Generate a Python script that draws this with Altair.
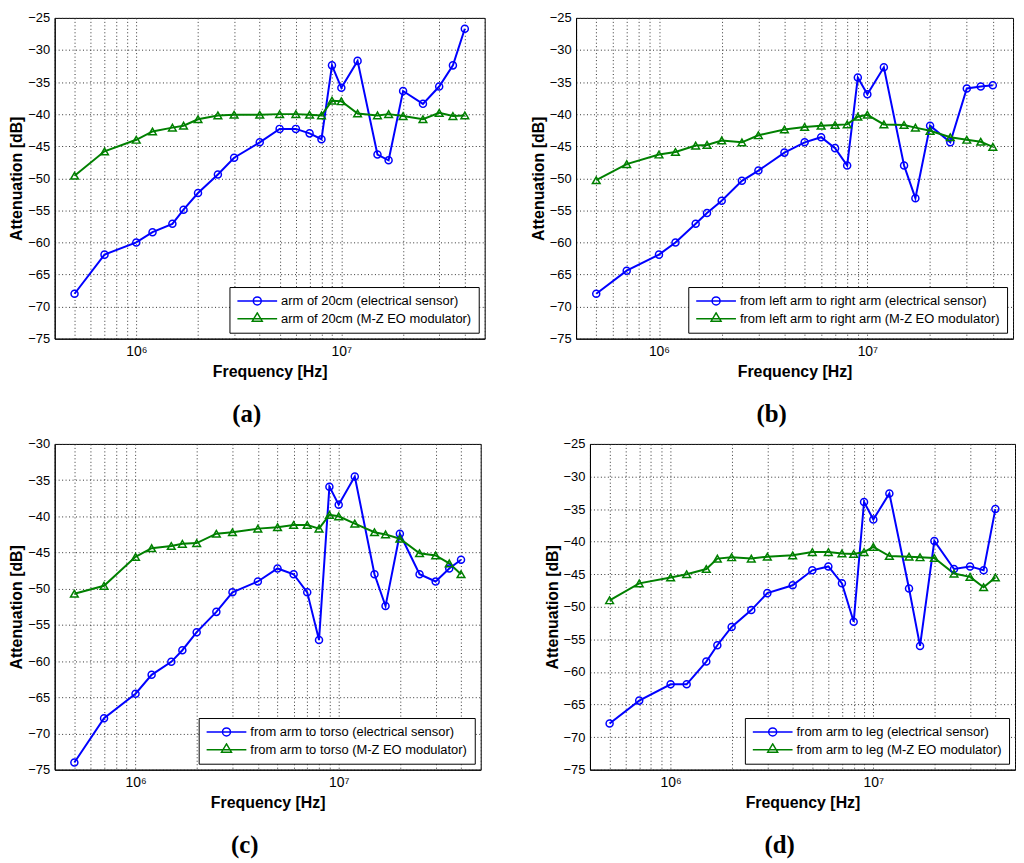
import altair as alt
import pandas as pd

# Frequencies in MHz (shared by all panels)
FREQ_MHZ = [0.5, 0.7, 1, 1.2, 1.5, 1.7, 2, 2.5, 3, 4, 5, 6, 7, 8, 9, 10, 12, 15, 17, 20, 25, 30, 35, 40]

A_ELEC = [-68.0, -61.9, -60.0, -58.4, -57.1, -54.9, -52.3, -49.4, -46.8, -44.4, -42.3, -42.3,
          -43.0, -43.9, -32.4, -35.9, -31.7, -46.3, -47.2, -36.4, -38.4, -35.7, -32.4, -26.7]
A_EO = [-49.6, -45.8, -44.0, -42.7, -42.1, -41.8, -40.8, -40.2, -40.1, -40.1, -40.0, -40.0,
        -40.1, -40.2, -37.9, -38.0, -39.9, -40.2, -40.0, -40.3, -40.8, -39.8, -40.3, -40.2]

B_ELEC = [-68.0, -64.4, -61.9, -60.0, -57.1, -55.4, -53.5, -50.4, -48.8, -46.0, -44.4, -43.6,
          -45.3, -48.0, -34.3, -36.9, -32.7, -48.0, -53.1, -41.8, -44.4, -36.0, -35.7, -35.5]
B_EO = [-50.3, -47.8, -46.3, -45.9, -44.9, -44.8, -44.1, -44.4, -43.3, -42.4, -42.0, -41.8,
        -41.7, -41.6, -40.4, -40.1, -41.6, -41.7, -42.1, -42.6, -43.6, -44.0, -44.3, -45.1]

C_ELEC = [-74.0, -67.9, -64.5, -61.9, -60.1, -58.5, -56.0, -53.2, -50.5, -49.0, -47.2, -48.0,
          -50.5, -57.1, -35.9, -38.4, -34.5, -48.0, -52.4, -42.4, -48.0, -49.0, -47.2, -46.0]
C_EO = [-50.7, -49.6, -45.6, -44.4, -44.1, -43.8, -43.7, -42.4, -42.2, -41.7, -41.5, -41.2,
        -41.2, -41.7, -39.8, -40.0, -41.0, -42.2, -42.5, -43.1, -45.1, -45.4, -46.5, -48.0]

D_ELEC = [-67.9, -64.4, -61.9, -61.9, -58.4, -55.9, -53.1, -50.5, -47.9, -46.7, -44.4, -43.8,
          -46.4, -52.3, -33.9, -36.6, -32.6, -47.2, -56.0, -39.9, -44.2, -43.8, -44.4, -35.0]
D_EO = [-49.0, -46.4, -45.5, -45.0, -44.2, -42.6, -42.4, -42.6, -42.3, -42.1, -41.6, -41.6,
        -41.8, -41.9, -41.6, -40.8, -42.2, -42.3, -42.4, -42.5, -44.9, -45.4, -47.0, -45.5]

PREFIXES = ["arm of 20cm", "from left arm to right arm", "from arm to torso", "from arm to leg"]
CAPTIONS = ["(a)", "(b)", "(c)", "(d)"]
YTOP = [-25, -25, -30, -25]

X_GRID = [400000, 500000, 600000, 700000, 800000, 900000,
          1000000, 2000000, 3000000, 4000000, 5000000, 6000000, 7000000, 8000000, 9000000,
          10000000, 20000000, 30000000, 40000000, 50000000]

BLUE = "#0000ff"
GREEN = "#008000"
# legend symbols: line segment with a marker (unit coordinates)
CIRC = "M-1,0H1M0.2,0A0.2,0.2 0 1,1 -0.2,0A0.2,0.2 0 1,1 0.2,0"
TRI = "M-1,0H1M0,-0.3L0.25,0.12L-0.25,0.12Z"


def panel(elec, eo, prefix, caption, ytop, width, height):
    n_elec = f"{prefix} (electrical sensor)"
    n_eo = f"{prefix} (M-Z EO modulator)"
    de = pd.DataFrame({"freq": [f * 1e6 for f in FREQ_MHZ], "att": elec, "series": n_elec})
    dg = pd.DataFrame({"freq": [f * 1e6 for f in FREQ_MHZ], "att": eo, "series": n_eo})
    df = pd.concat([de, dg], ignore_index=True)
    # rows only used to build the legend (placed outside the plotted range, clipped)
    dl = pd.DataFrame({"freq": [1e9, 1e9], "att": [-50, -50], "series": [n_elec, n_eo]})

    x = alt.X("freq:Q", scale=alt.Scale(type="log", domain=[400000, 50000000], nice=False),
              axis=alt.Axis(values=X_GRID, title="Frequency [Hz]", labelPadding=6, titlePadding=5,
                            labelFontSize=14,
                            labelExpr="datum.value == 1000000 ? '10⁶' : datum.value == 10000000 ? '10⁷' : ''"))
    y = alt.Y("att:Q", scale=alt.Scale(domain=[-75, ytop], nice=False, zero=False),
              axis=alt.Axis(values=list(range(-75, ytop + 1, 5)), title="Attenuation [dB]",
                            labelPadding=5, titlePadding=3))
    cscale = alt.Scale(domain=[n_elec, n_eo], range=[BLUE, GREEN])
    leg = alt.Legend(title=None, orient="bottom-right", offset=6, padding=7,
                     strokeColor="black", fillColor="white",
                     labelFontSize=13, labelFont="Liberation Sans", labelColor="black",
                     symbolSize=1600, clipHeight=14, rowPadding=4, labelOffset=3,
                     symbolStrokeWidth=1.5, labelLimit=500, symbolFillColor="transparent")
    lines = alt.Chart(df).mark_line(strokeWidth=2).encode(
        x=x, y=y, color=alt.Color("series:N", scale=cscale, legend=leg))
    pts_e = alt.Chart(de).mark_point(filled=False, size=50, strokeWidth=1.5, opacity=1,
                                     shape="circle", color=BLUE).encode(x=x, y=y)
    pts_g = alt.Chart(dg).mark_point(filled=False, size=60, strokeWidth=1.5, opacity=1,
                                     shape="triangle-up", color=GREEN).encode(x=x, y=y)
    legend_layer = alt.Chart(dl).mark_point(filled=False, size=1600, strokeWidth=1.5, clip=True, opacity=1).encode(
        x=x, y=y,
        color=alt.Color("series:N", scale=cscale, legend=leg),
        shape=alt.Shape("series:N", scale=alt.Scale(domain=[n_elec, n_eo], range=[CIRC, TRI]), legend=leg))
    return alt.layer(lines, pts_e, pts_g, legend_layer).properties(
        width=width, height=height,
        title=alt.TitleParams(caption, orient="bottom", anchor="middle", frame="bounds",
                              font="Liberation Serif", fontSize=25, fontWeight="bold", offset=23, color="black"))


pa = panel(A_ELEC, A_EO, PREFIXES[0], CAPTIONS[0], YTOP[0], 433, 323)
pb = panel(B_ELEC, B_EO, PREFIXES[1], CAPTIONS[1], YTOP[1], 440, 323)
pc = panel(C_ELEC, C_EO, PREFIXES[2], CAPTIONS[2], YTOP[2], 429, 328)
pd_ = panel(D_ELEC, D_EO, PREFIXES[3], CAPTIONS[3], YTOP[3], 428, 328)

row1 = alt.hconcat(pa, pb, spacing=44).resolve_scale(color="independent", shape="independent").resolve_legend(
    color="independent", shape="independent")
row2 = alt.hconcat(pc, pd_, spacing=62).resolve_scale(color="independent", shape="independent").resolve_legend(
    color="independent", shape="independent")

chart = alt.vconcat(row1, row2, spacing=9).resolve_scale(
    color="independent", shape="independent").resolve_legend(color="independent", shape="independent").properties(
    padding=0, background="white"
).configure_view(stroke="black", strokeWidth=1).configure_axis(
    domainColor="black", domainWidth=1, ticks=False,
    grid=True, gridColor="#333333", gridDash=[1, 2.5], gridWidth=1, gridOpacity=1,
    labelFont="Liberation Sans", labelFontSize=13, labelColor="black",
    titleFont="Liberation Sans", titleFontSize=16, titleFontWeight="bold", titleColor="black"
)

chart.save("out.html", embed_options={"renderer": "svg", "actions": False})
